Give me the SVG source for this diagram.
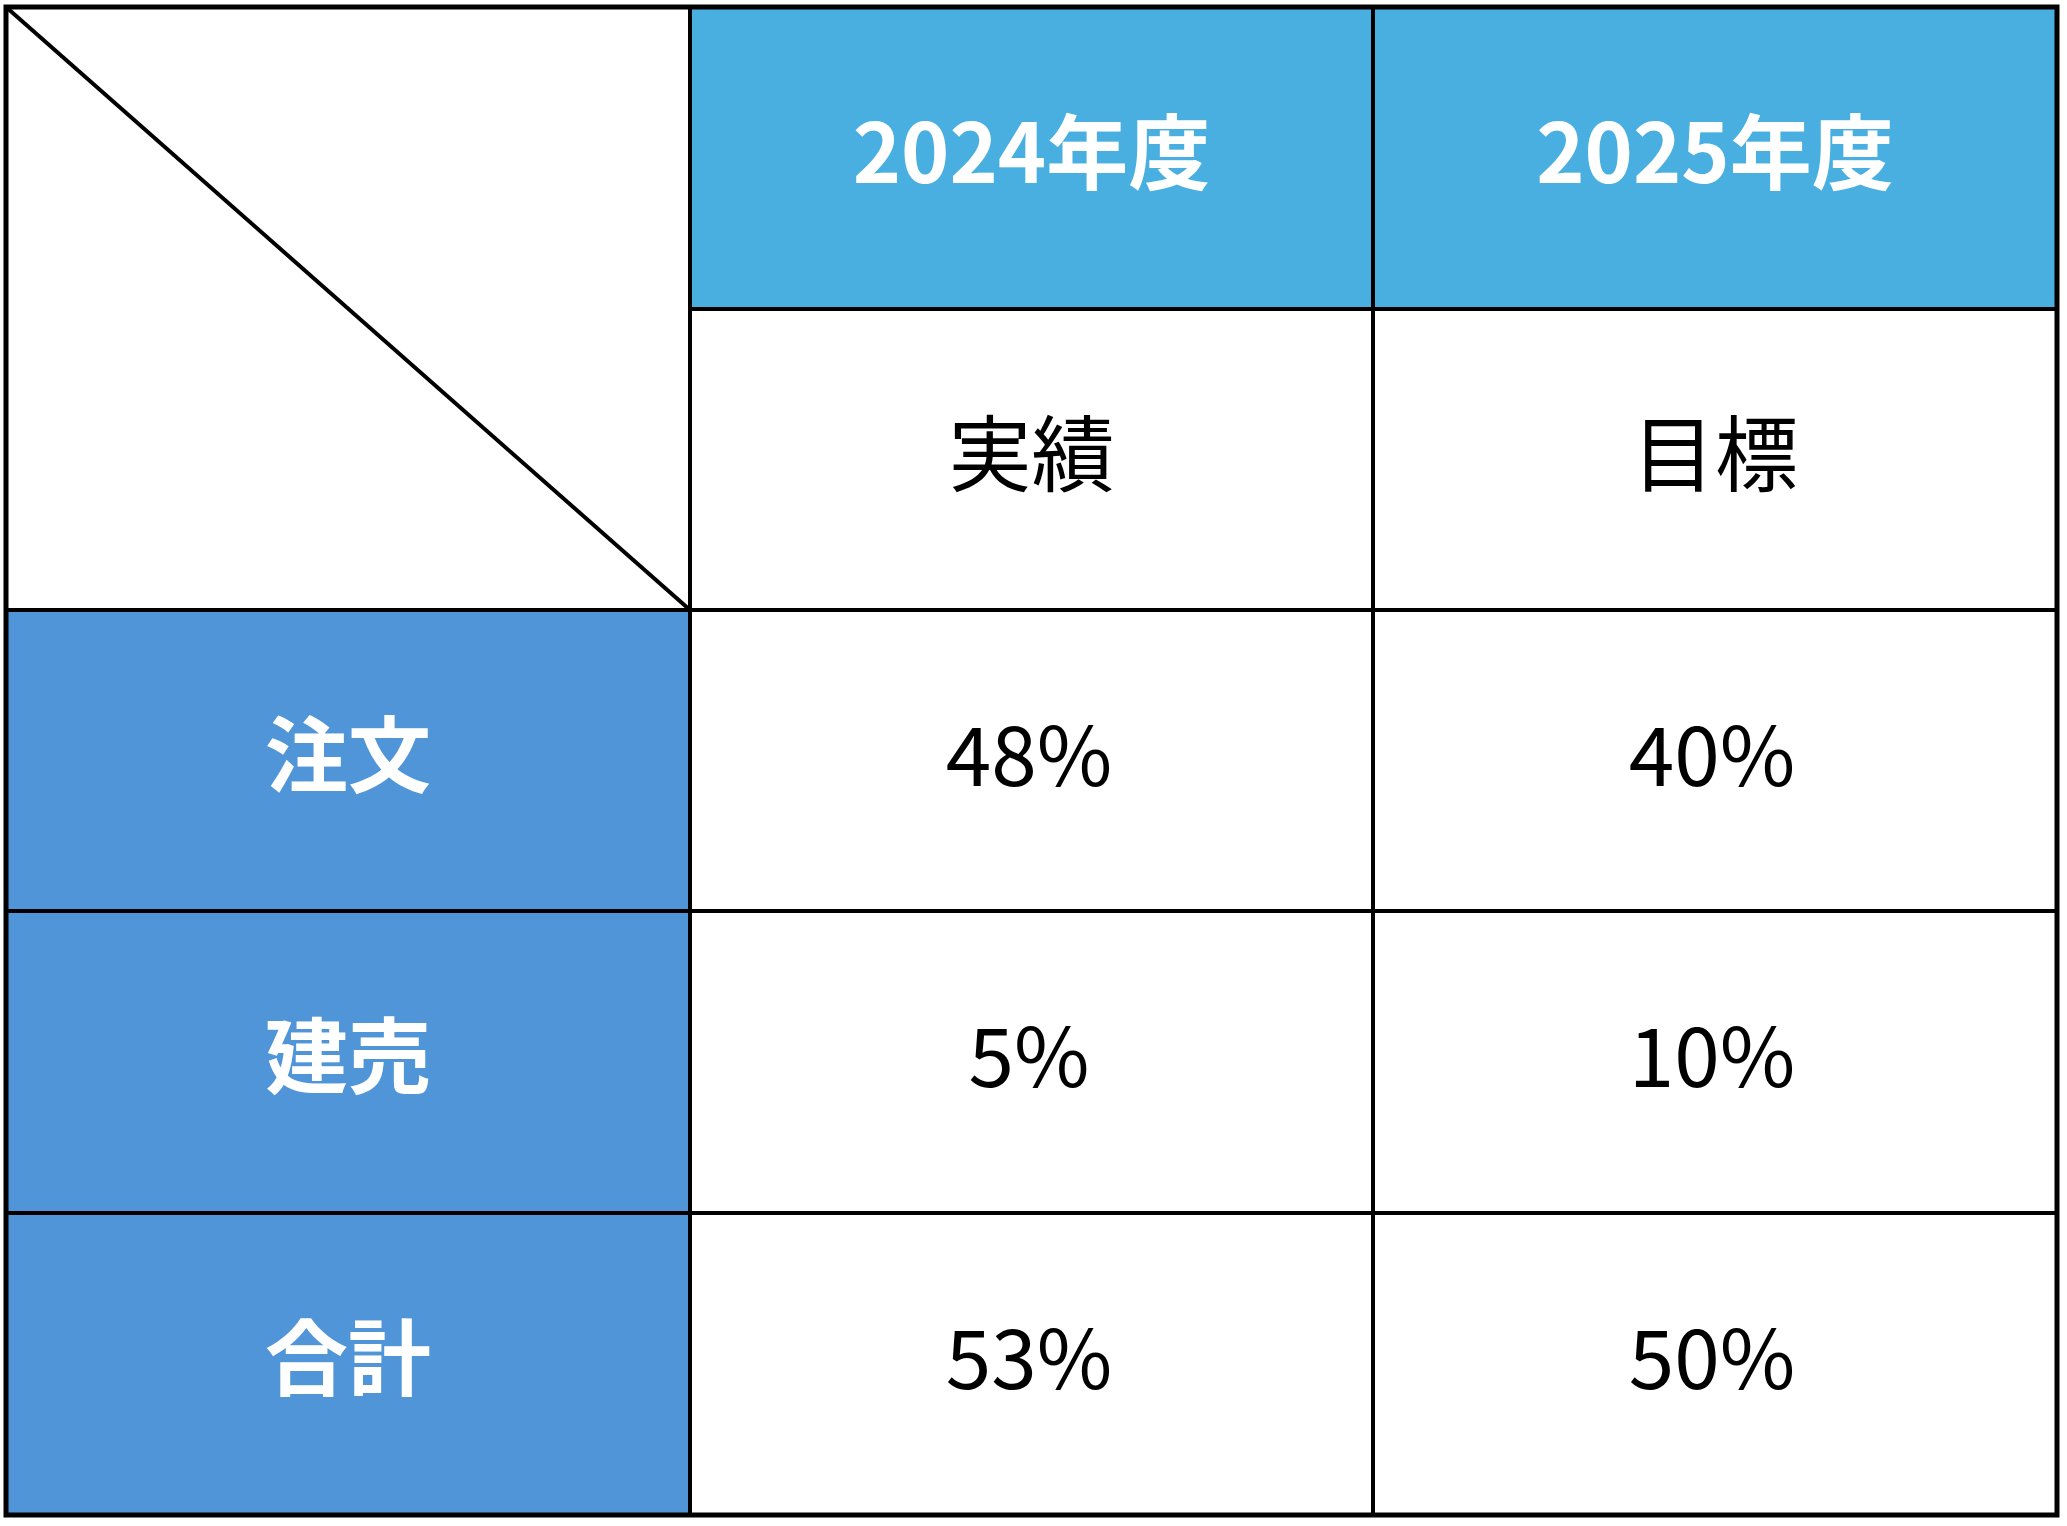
<svg xmlns="http://www.w3.org/2000/svg" width="2067" height="1526" viewBox="0 0 2067 1526">
  <style>
    .hdr { fill: #48AFE0; }
    .rowh { fill: #4F95D8; }
    .cell { fill: #FFFFFF; }
    .grid { stroke: #000000; stroke-width: 4; fill: none; }
    .outer { stroke: #000000; stroke-width: 5; fill: none; }
    .t { font-family: "Noto Sans CJK JP", "Noto Sans", sans-serif; font-size: 83px; text-anchor: middle; }
    .tw { fill: #FFFFFF; font-weight: bold; }
    .tb { fill: #000000; font-weight: normal; }
    .num { font-size: 82px; }
    .yr { font-size: 82px; }
  </style>
  <rect x="0" y="0" width="2067" height="1526" fill="#FFFFFF"/>

  <g id="corner">
    <rect class="cell" x="6" y="7" width="684" height="603"/>
  </g>
  <g id="h2024">
    <rect class="hdr" x="690" y="7" width="683" height="302"/>
    <text class="t tw yr" x="1031.5" y="183">2024年度</text>
  </g>
  <g id="h2025">
    <rect class="hdr" x="1373" y="7" width="684" height="302"/>
    <text class="t tw yr" x="1715" y="183">2025年度</text>
  </g>
  <g id="sub-actual">
    <rect class="cell" x="690" y="309" width="683" height="301"/>
    <text class="t tb" x="1031.5" y="485">実績</text>
  </g>
  <g id="sub-target">
    <rect class="cell" x="1373" y="309" width="684" height="301"/>
    <text class="t tb" x="1715" y="485">目標</text>
  </g>
  <g id="r-chumon">
    <rect class="rowh" x="6" y="610" width="684" height="301"/>
    <text class="t tw" x="348" y="786">注文</text>
  </g>
  <g id="r-chumon-2024">
    <rect class="cell" x="690" y="610" width="683" height="301"/>
    <text class="t tb num" x="1029" y="786">48%</text>
  </g>
  <g id="r-chumon-2025">
    <rect class="cell" x="1373" y="610" width="684" height="301"/>
    <text class="t tb num" x="1712" y="786">40%</text>
  </g>
  <g id="r-tateuri">
    <rect class="rowh" x="6" y="911" width="684" height="302"/>
    <text class="t tw" x="348" y="1087">建売</text>
  </g>
  <g id="r-tateuri-2024">
    <rect class="cell" x="690" y="911" width="683" height="302"/>
    <text class="t tb num" x="1029" y="1087">5%</text>
  </g>
  <g id="r-tateuri-2025">
    <rect class="cell" x="1373" y="911" width="684" height="302"/>
    <text class="t tb num" x="1712" y="1087">10%</text>
  </g>
  <g id="r-total">
    <rect class="rowh" x="6" y="1213" width="684" height="302"/>
    <text class="t tw" x="348" y="1389">合計</text>
  </g>
  <g id="r-total-2024">
    <rect class="cell" x="690" y="1213" width="683" height="302"/>
    <text class="t tb num" x="1029" y="1389">53%</text>
  </g>
  <g id="r-total-2025">
    <rect class="cell" x="1373" y="1213" width="684" height="302"/>
    <text class="t tb num" x="1712" y="1389">50%</text>
  </g>

  <g id="connectors">
    <line class="grid" x1="6" y1="7" x2="690" y2="610"/>
    <line class="grid" x1="690" y1="7" x2="690" y2="1515"/>
    <line class="grid" x1="1373" y1="7" x2="1373" y2="1515"/>
    <line class="grid" x1="690" y1="309" x2="2057" y2="309"/>
    <line class="grid" x1="6" y1="610" x2="2057" y2="610"/>
    <line class="grid" x1="6" y1="911" x2="2057" y2="911"/>
    <line class="grid" x1="6" y1="1213" x2="2057" y2="1213"/>
    <rect class="outer" x="6" y="7" width="2051" height="1508"/>
  </g>
</svg>
